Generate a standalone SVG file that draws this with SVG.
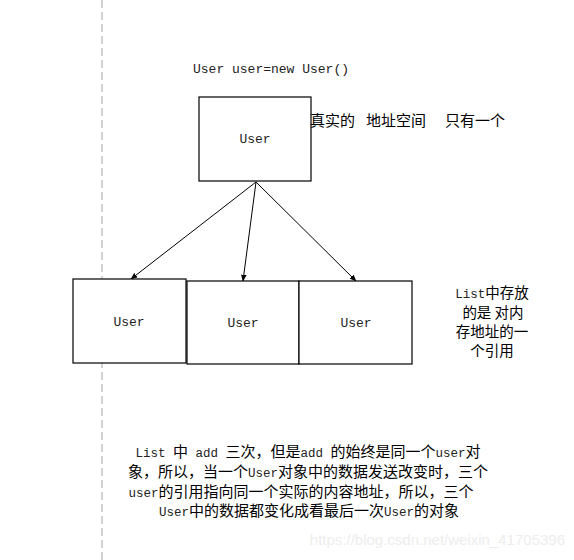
<svg xmlns="http://www.w3.org/2000/svg" width="574" height="560" viewBox="0 0 574 560">
<style>
.box{fill:#fff;stroke:#000;stroke-width:1.2}
.mono{font-family:"Liberation Mono","DejaVu Sans Mono",monospace;font-size:13px;fill:#222}
.cjk{font-family:"Noto Sans CJK SC","Liberation Sans",sans-serif;font-size:15px;fill:#000}
.cjks{font-family:"Noto Sans CJK SC","Liberation Sans",sans-serif;font-size:14.5px;fill:#000}
.lat{font-family:"Liberation Mono","DejaVu Sans Mono",monospace;font-size:12.5px;fill:#222}
.conn{stroke:#000;stroke-width:1;fill:none;marker-end:url(#ah)}
</style>
<defs>
<marker id="ah" viewBox="0 0 10 10" refX="9" refY="5" markerWidth="7" markerHeight="7" markerUnits="userSpaceOnUse" orient="auto">
<path d="M0,1 L10,5 L0,9 Z" fill="#000"/>
</marker>
</defs>
<rect width="574" height="560" fill="#fff"/>
<line x1="102" y1="0" x2="102" y2="560" stroke="#bbb" stroke-width="1.3" stroke-dasharray="8,4"/>
<text class="mono" x="193" y="73">User user=new User()</text>
<g id="user-main">
<rect class="box" x="199" y="97" width="112" height="84"/>
<text class="mono" x="255" y="143" text-anchor="middle">User</text>
</g>
<g id="note-top">
<text class="cjk" y="126"><tspan x="310">真实的</tspan><tspan x="366">地址空间</tspan><tspan x="445">只有一个</tspan></text>
</g>
<g id="connectors">
<line class="conn" x1="256" y1="182" x2="131" y2="279"/>
<line class="conn" x1="256" y1="182" x2="243" y2="281"/>
<line class="conn" x1="256" y1="182" x2="356" y2="281"/>
</g>
<g id="user-1">
<rect class="box" x="73" y="279" width="113" height="84"/>
<text class="mono" x="129" y="326" text-anchor="middle">User</text>
</g>
<g id="user-2">
<rect class="box" x="187" y="281" width="112" height="83"/>
<text class="mono" x="243" y="327" text-anchor="middle">User</text>
</g>
<g id="user-3">
<rect class="box" x="299" y="281" width="113" height="83"/>
<text class="mono" x="356" y="327" text-anchor="middle">User</text>
</g>
<g id="note-right">
<text class="cjks" x="492" y="298" text-anchor="middle"><tspan class="lat">List</tspan>中存放</text>
<text class="cjks" x="493" y="318" text-anchor="middle">的是 对内</text>
<text class="cjks" x="492" y="337" text-anchor="middle">存地址的一</text>
<text class="cjks" x="492" y="356" text-anchor="middle">个引用</text>
</g>
<g id="note-bottom">
<text class="cjk" x="308" y="457" text-anchor="middle"><tspan class="lat">List </tspan>中<tspan class="lat"> add </tspan>三次，但是<tspan class="lat">add </tspan>的始终是同一个<tspan class="lat">user</tspan>对</text>
<text class="cjk" x="308" y="477" text-anchor="middle">象，所以，当一个<tspan class="lat">User</tspan>对象中的数据发送改变时，三个</text>
<text class="cjk" x="301" y="497" text-anchor="middle"><tspan class="lat">user</tspan>的引用指向同一个实际的内容地址，所以，三个</text>
<text class="cjk" x="309" y="516" text-anchor="middle"><tspan class="lat">User</tspan>中的数据都变化成看最后一次<tspan class="lat">User</tspan>的对象</text>
</g>
<text x="565" y="545" text-anchor="end" font-family="Liberation Sans,Arial,sans-serif" font-size="15" fill="#ededed">https://blog.csdn.net/weixin_41705396</text>
</svg>
